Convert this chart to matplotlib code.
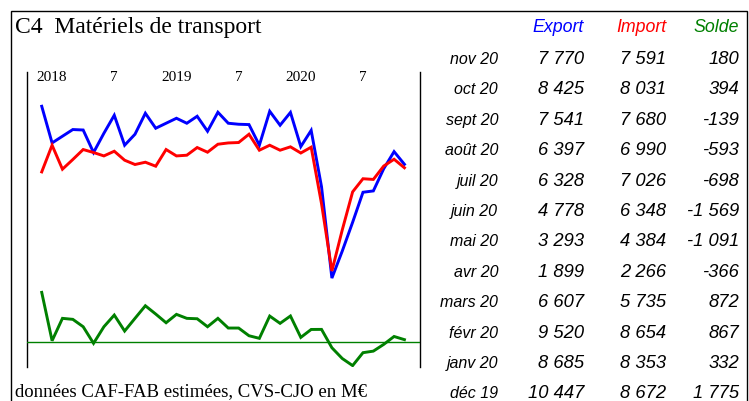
import matplotlib.pyplot as plt
from matplotlib.patches import Rectangle

# monthly series, dec 2017 -> nov 2020 (M EUR)
export = [10765, 8873, 9219, 9564, 9540, 8378, 9373, 10301, 8755, 9322, 10404, 9631,
          9889, 10146, 9889, 10250, 9476, 10456, 9889, 9837, 9820, 8755, 10507, 9786,
          10447, 8685, 9520, 6607, 1899, 3293, 4778, 6328, 6397, 7541, 8425, 7770]
imports = [7378, 8755, 7518, 8018, 8533, 8378, 8203, 8445, 7981, 7760, 7878, 7672,
           8533, 8203, 8239, 8636, 8394, 8806, 8873, 8894, 9322, 8497, 8755, 8497,
           8672, 8353, 8654, 5735, 2266, 4384, 6348, 7026, 6990, 7680, 8031, 7591]
solde = [3367, 108, 1616, 1549, 1051, -67, 1051, 1838, 761, 1616, 2465, 1906,
         1320, 1885, 1616, 1589, 1051, 1616, 963, 963, 444, 269, 1771, 1279,
         1775, 332, 867, 872, -366, -1091, -1569, -698, -593, -139, 394, 180]

year_ticks = [1, 7, 13, 19, 25, 31]
year_labels = ["2018", "7", "2019", "7", "2020", "7"]

# table on the right
row_labels = ["nov 20", "oct 20", "sept 20", "août 20", "juil 20", "juin 20",
              "mai 20", "avr 20", "mars 20", "févr 20", "janv 20", "déc 19"]
tab_export = ["7 770", "8 425", "7 541", "6 397", "6 328", "4 778",
              "3 293", "1 899", "6 607", "9 520", "8 685", "10 447"]
tab_import = ["7 591", "8 031", "7 680", "6 990", "7 026", "6 348",
              "4 384", "2 266", "5 735", "8 654", "8 353", "8 672"]
tab_solde = ["180", "394", "-139", "-593", "-698", "-1 569",
             "-1 091", "-366", "872", "867", "332", "1 775"]

W, H = 749, 401
fig = plt.figure(figsize=(W / 100, H / 100), dpi=100)


def fx(px):
    return px / W


def fy(py):
    return 1 - py / H


# outer frame
fig.patches.append(Rectangle((fx(10.7), -0.1), fx(747) - fx(10.7), fy(11) + 0.1,
                             transform=fig.transFigure, fill=False,
                             edgecolor="black", linewidth=1.0))

fig.text(fx(15), fy(28), "C4  Matériels de transport", family="Liberation Serif",
         fontsize=17, va="center", ha="left")
fig.text(fx(15), fy(392), "données CAF-FAB estimées, CVS-CJO en M€",
         family="Liberation Serif", fontsize=13.5, va="center", ha="left")

# chart axes
left, right, top, bottom = 26.7, 420.5, 72, 366.7
rect = [fx(left), fy(bottom), fx(right) - fx(left), fy(top) - fy(bottom)]
ax = fig.add_axes(rect)
ax2 = fig.add_axes(rect, sharex=ax)
ax2.patch.set_visible(False)

x = list(range(len(export)))
ax.plot(x, export, color="#0000ff", linewidth=2.1, solid_joinstyle="miter")
ax.plot(x, imports, color="#ff0000", linewidth=2.1, solid_joinstyle="miter")
ax2.plot(x, solde, color="#008000", linewidth=2.1, solid_joinstyle="miter")
ax2.axhline(0, color="#008000", linewidth=1.0)

ax.set_xlim(-1.45, 36.55)
ax.set_ylim(-2673, 12533)
ax2.set_ylim(-1643, 18222)

for a in (ax, ax2):
    a.spines["top"].set_visible(False)
    a.spines["bottom"].set_visible(False)
    a.set_yticks([])
ax2.spines["left"].set_visible(False)
ax2.spines["right"].set_visible(False)
for s in ("left", "right"):
    ax.spines[s].set_linewidth(1.0)

ax.xaxis.tick_top()
ax.set_xticks(year_ticks)
ax.set_xticklabels(year_labels, family="Liberation Serif", fontsize=11)
ax.tick_params(axis="x", length=0, pad=-8.7)
ax2.tick_params(axis="x", which="both", top=False, bottom=False,
                labeltop=False, labelbottom=False)

# table
tfont = dict(family="Liberation Sans", style="italic")
fig.text(fx(584), fy(28), "Export", color="#0000ff", ha="right", va="center", fontsize=12.8, **tfont)
fig.text(fx(666), fy(28), "Import", color="#ff0000", ha="right", va="center", fontsize=12.8, **tfont)
fig.text(fx(739), fy(28), "Solde", color="#008000", ha="right", va="center", fontsize=12.8, **tfont)

y0, dy = 59.5, 30.4
for i, lab in enumerate(row_labels):
    yy = fy(y0 + i * dy)
    fig.text(fx(498), yy, lab, ha="right", va="center", fontsize=11.5, **tfont)
    fig.text(fx(584), yy, tab_export[i], ha="right", va="center", fontsize=13.2, **tfont)
    fig.text(fx(666), yy, tab_import[i], ha="right", va="center", fontsize=13.2, **tfont)
    fig.text(fx(739), yy, tab_solde[i], ha="right", va="center", fontsize=13.2, **tfont)

fig.savefig("out.png", dpi=100)
